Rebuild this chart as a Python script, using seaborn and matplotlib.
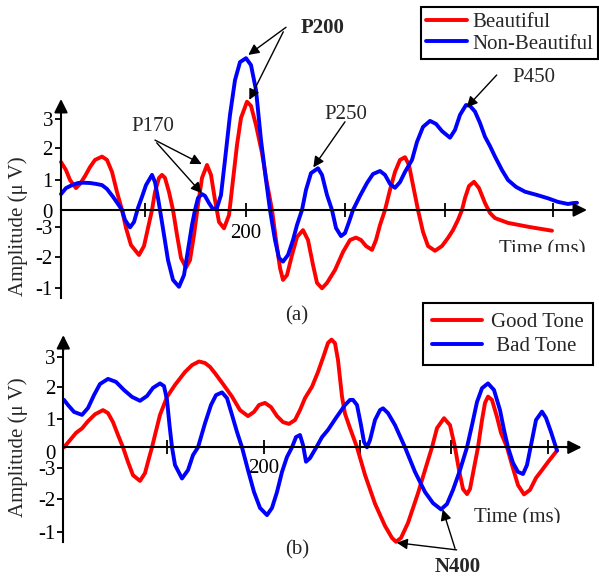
import matplotlib
matplotlib.use("Agg")
import matplotlib.pyplot as plt
import seaborn as sns
import pandas as pd
from matplotlib.transforms import Bbox

# ---------------- data (time in ms, amplitude in chart units) ----------------
beau_t = [15, 20, 24, 30, 34, 39, 44, 49, 56, 61, 66, 71, 76, 80, 85, 93, 98, 102, 106, 109,
          113, 116, 119, 123, 127, 131, 135, 140, 144, 148, 152, 156, 161, 165, 169, 173, 178,
          183, 187, 191, 195, 201, 205, 210, 216, 220, 226, 230, 234, 237, 241, 246, 251, 257,
          262, 267, 271, 276, 281, 289, 297, 304, 310, 315, 320, 326, 330, 334, 339, 344, 349,
          354, 359, 363, 367, 372, 377, 382, 389, 396, 402, 407, 412, 416, 419, 423, 428, 433,
          439, 444, 449, 462, 484, 506]
beau_a = [1.6, 1.33, 1.0, 0.73, 0.87, 1.13, 1.43, 1.67, 1.78, 1.67, 1.27, 0.6, 0.0, -0.6, -1.17,
          -1.5, -1.2, -0.6, 0.0, 0.6, 1.07, 1.17, 1.07, 0.6, 0.0, -0.83, -1.6, -1.92, -1.67,
          -0.83, 0.17, 1.07, 1.5, 1.17, 0.33, -0.4, -0.61, -0.17, 1.0, 2.17, 3.07, 3.61, 3.47,
          2.83, 1.9, 1.07, 0.0, -1.0, -1.93, -2.33, -2.17, -1.5, -0.9, -0.67, -1.0, -1.83,
          -2.43, -2.61, -2.43, -2.0, -1.4, -1.0, -0.92, -1.0, -1.2, -1.33, -1.0, -0.5, 0.0,
          0.67, 1.27, 1.67, 1.76, 1.5, 0.83, 0.0, -0.73, -1.2, -1.36, -1.2, -0.93, -0.67,
          -0.33, 0.0, 0.4, 0.8, 0.94, 0.73, 0.23, -0.1, -0.27, -0.43, -0.57, -0.69]

nonbeau_t = [15, 20, 26, 32, 37, 44, 50, 56, 61, 67, 72, 76, 79, 84, 88, 92, 96, 100, 106, 109,
             112, 114, 118, 122, 127, 133, 138, 142, 146, 149, 152, 156, 159, 163, 167, 171,
             175, 179, 184, 189, 194, 200, 205, 210, 215, 220, 224, 229, 233, 237, 242, 247,
             251, 256, 260, 265, 272, 276, 281, 286, 290, 295, 299, 303, 307, 314, 321, 327,
             334, 339, 344, 349, 354, 359, 366, 371, 377, 384, 390, 396, 404, 409, 414, 420,
             424, 429, 434, 439, 444, 449, 456, 462, 470, 479, 491, 502, 512, 522, 527, 531]
nonbeau_a = [0.53, 0.73, 0.83, 0.9, 0.91, 0.9, 0.87, 0.83, 0.7, 0.44, 0.2, 0.0, -0.33, -0.58,
             -0.4, 0.07, 0.44, 0.83, 1.17, 0.93, 0.4, 0.0, -0.83, -1.67, -2.33, -2.56, -2.17,
             -1.33, -0.5, 0.0, 0.4, 0.53, 0.47, 0.23, 0.03, 0.07, 0.5, 1.67, 3.17, 4.33, 4.93,
             5.06, 4.83, 4.0, 2.33, 1.0, 0.0, -1.0, -1.6, -1.72, -1.5, -1.0, -0.5, 0.0, 0.67,
             1.23, 1.39, 1.17, 0.5, 0.0, -0.6, -0.87, -0.77, -0.4, 0.0, 0.47, 0.9, 1.2, 1.3,
             1.17, 0.87, 0.74, 0.93, 1.27, 1.67, 2.27, 2.77, 2.97, 2.87, 2.63, 2.41, 2.67, 3.17,
             3.5, 3.47, 3.28, 2.9, 2.44, 2.13, 1.78, 1.33, 1.0, 0.77, 0.61, 0.5, 0.39, 0.27,
             0.2, 0.23, 0.24]

good_t = [0, 6, 12, 18, 24, 31, 39, 44, 49, 54, 59, 64, 69, 76, 81, 85, 88, 91, 96, 103, 111,
          121, 128, 135, 141, 146, 151, 159, 168, 176, 184, 190, 195, 201, 207, 213, 219, 225,
          231, 236, 241, 248, 254, 260, 264, 267.5, 271, 274, 278, 281, 286, 293, 301, 311,
          321, 328, 332, 337, 344, 354, 361, 368, 373, 380, 386, 391, 395, 399, 403, 406, 410,
          414, 418, 421, 424, 428, 433, 437, 443, 448, 454, 460, 466, 472, 478, 484, 493]
good_a = [0.0, 0.24, 0.48, 0.63, 0.87, 1.1, 1.24, 1.14, 0.84, 0.41, 0.0, -0.49, -0.93, -1.12,
          -0.86, -0.36, 0.0, 0.41, 1.08, 1.68, 2.08, 2.51, 2.74, 2.86, 2.81, 2.68, 2.47, 2.11,
          1.69, 1.24, 1.04, 1.18, 1.41, 1.48, 1.34, 1.04, 0.84, 0.78, 0.91, 1.24, 1.64, 2.02,
          2.51, 3.08, 3.48, 3.59, 3.47, 2.91, 1.69, 1.12, 0.64, 0.0, -0.92, -1.88, -2.62,
          -3.02, -3.15, -3.02, -2.52, -1.53, -0.76, 0.0, 0.64, 0.97, 0.74, 0.0, -0.76, -1.39,
          -1.56, -1.39, -0.69, 0.0, 0.91, 1.48, 1.69, 1.58, 1.01, 0.48, 0.0, -0.59, -1.26,
          -1.57, -1.42, -1.02, -0.76, -0.49, -0.11]

bad_t = [0, 4, 10, 18, 24, 30, 36, 44, 52, 60, 68, 76, 83, 89, 96, 100, 103, 105.5, 108, 111,
         118, 124, 129, 134, 141, 147, 152, 158, 163, 168, 173, 178, 184, 190, 196, 203, 208,
         213, 218, 223, 228, 232, 236, 239, 242, 246, 252, 258, 264, 272, 281, 286, 289, 293,
         297, 300, 303, 306, 311, 316, 319, 324, 331, 341, 351, 361, 369, 377, 383, 389, 396,
         403, 408, 413, 418, 424, 430, 436, 440, 444, 449, 454, 459, 463, 468, 472, 478, 482,
         487, 493]
bad_a = [1.58, 1.41, 1.18, 1.08, 1.31, 1.74, 2.11, 2.28, 2.18, 1.91, 1.68, 1.55, 1.71, 1.98,
         2.13, 2.04, 1.58, 0.74, 0.0, -0.59, -1.04, -0.76, -0.26, 0.0, 0.8, 1.41, 1.74, 1.83,
         1.64, 1.08, 0.51, 0.0, -0.76, -1.49, -2.02, -2.26, -2.02, -1.49, -0.82, -0.32, 0.0,
         0.34, 0.41, 0.08, -0.48, -0.36, -0.02, 0.34, 0.58, 0.98, 1.41, 1.58, 1.58, 1.41, 0.74,
         0.18, 0.0, 0.24, 0.91, 1.24, 1.3, 1.14, 0.74, 0.0, -0.82, -1.49, -1.86, -2.07, -1.89,
         -1.42, -0.76, 0.0, 0.74, 1.51, 1.97, 2.13, 1.91, 1.24, 0.58, 0.0, -0.52, -0.82, -0.89,
         -0.59, 0.24, 0.91, 1.19, 0.98, 0.51, -0.11]

top_labels = ["Beautiful", "Non-Beautiful"]
bottom_labels = ["Good Tone", " Bad Tone"]
ytick_labels = ["3", "2", "1", "0", "-3", "-2", "-1"]
top_yticks = [3.03, 2.06, 1.0, -0.05, -0.58, -1.56, -2.61]
bottom_yticks = [3.0, 2.02, 0.93, -0.15, -0.7, -1.72, -2.81]
top_xticks = [99, 200, 299, 399, 507]
bottom_xticks = [103, 200, 296, 387, 484]
xtick_labels = ["", "200", "", "", ""]

RED, BLUE = "#ff0000", "#0000ff"

# ---------------- figure ----------------
sns.set_style("white")
plt.rcParams["font.family"] = ["Liberation Serif", "DejaVu Serif"]
FS = 15
W, H = 599, 577
fig = plt.figure(figsize=(W / 100, H / 100), dpi=100)
ax1 = fig.add_axes([0, 1 - 325 / H, 1, 325 / H])
ax2 = fig.add_axes([0, 0, 1, 282 / H])

df_top = pd.concat([
    pd.DataFrame({"time": beau_t, "amp": beau_a, "cond": top_labels[0]}),
    pd.DataFrame({"time": nonbeau_t, "amp": nonbeau_a, "cond": top_labels[1]}),
])
df_bot = pd.concat([
    pd.DataFrame({"time": good_t, "amp": good_a, "cond": bottom_labels[0]}),
    pd.DataFrame({"time": bad_t, "amp": bad_a, "cond": bottom_labels[1]}),
])

line_kw = dict(estimator=None, sort=False, linewidth=2.8, legend=False,
               solid_joinstyle="round", solid_capstyle="round")
sns.lineplot(data=df_top, x="time", y="amp", hue="cond", hue_order=top_labels,
             palette=[RED, BLUE], ax=ax1, **line_kw)
top_lines = list(ax1.lines[:2])
sns.lineplot(data=df_bot, x="time", y="amp", hue="cond", hue_order=bottom_labels,
             palette=[RED, BLUE], ax=ax2, **line_kw)
bot_lines = list(ax2.lines[:2])

def style_axis(ax, xlim, ylim, x0, ybounds, xend, xticks, yticks, xpad):
    ax.patch.set_alpha(0)
    ax.set_xlim(*xlim)
    ax.set_ylim(*ylim)
    ax.set_xlabel("")
    ax.set_ylabel("")
    for s in ("top", "right"):
        ax.spines[s].set_visible(False)
    ax.spines["left"].set_position(("data", x0))
    ax.spines["bottom"].set_position(("data", 0))
    ax.spines["left"].set_bounds(ybounds[0], ybounds[1] - 0.2)
    ax.spines["bottom"].set_bounds(x0, xend - 6)
    for s in ("left", "bottom"):
        ax.spines[s].set_linewidth(1.5)
        ax.spines[s].set_color("black")
    ax.set_xticks(xticks, xtick_labels)
    ax.set_yticks(yticks, ytick_labels)
    ax.tick_params(axis="x", direction="inout", length=10.5, width=1.3, pad=xpad,
                   labelsize=FS, colors="black", bottom=True)
    ax.tick_params(axis="y", direction="out", length=4.3, width=1.3, pad=1.5,
                   labelsize=FS, colors="black", left=True)
    ax.yaxis.get_major_ticks()[3].tick1line.set_visible(False)
    ax.grid(False)
    ap = dict(arrowstyle="-|>", color="black", lw=1.5, mutation_scale=20,
              shrinkA=0, shrinkB=0)
    ax.annotate("", xy=(xend, 0), xytext=(xend - 15, 0), arrowprops=ap)
    ax.annotate("", xy=(x0, ybounds[1]), xytext=(x0, ybounds[1] - 0.5), arrowprops=ap)

style_axis(ax1, (-46, 553), ((210 - 325) / 30, 210 / 30), 15, (-2.93, 3.7), 541,
           top_xticks, top_yticks, 5)
style_axis(ax2, (-64, 535), ((447.3 - 577) / 30, (447.3 - 295) / 30), -0.7, (-3.15, 3.74),
           517.7, bottom_xticks, bottom_yticks, 3.5)

# ---------------- legends ----------------
def make_legend(ax, lines, labels, anchor, hl, htp, bp, ls):
    leg = ax.legend(handles=lines, labels=labels, loc="upper right",
                    bbox_to_anchor=anchor, bbox_transform=fig.transFigure,
                    borderaxespad=0, frameon=True, fancybox=False, shadow=False,
                    edgecolor="black", facecolor="white", framealpha=1, fontsize=FS,
                    handlelength=hl, handletextpad=htp, borderpad=bp, labelspacing=ls)
    leg.get_frame().set_linewidth(1.5)
    return leg

make_legend(ax1, top_lines, top_labels, (598 / W, 1 - 7.3 / H), 1.95, 0.24, 0.25, 0.1)
make_legend(ax2, bot_lines, bottom_labels, (592.7 / W, 1 - 303.3 / H), 2.37, 0.43, 0.45, 0.2)

# ---------------- texts / annotations ----------------
arr = dict(arrowstyle="-|>", color="black", lw=1.0, mutation_scale=16, shrinkA=0, shrinkB=0)

ax1.text(-28, -0.53, "Amplitude (μ V)", rotation=90, ha="center", va="center", fontsize=FS)
ax2.text(-46, 0.0, "Amplitude (μ V)", rotation=90, ha="center", va="center", fontsize=FS)

# axis titles that are cut just above their baseline, as in the reference
t1 = ax1.text(496, -1.48, "Time (ms)", ha="center", va="baseline", fontsize=FS)
t1.set_clip_on(True)
t1.set_clip_path(None)
t1.set_clip_box(Bbox.from_extents(0, H - 252.3, W, H))
t2 = ax2.text(453.5, -2.52, "Time (ms)", ha="center", va="baseline", fontsize=FS)
t2.set_clip_on(True)
t2.set_clip_path(None)
t2.set_clip_box(Bbox.from_extents(0, H - 522.5, W, H))

ax1.text(251, -3.53, "(a)", ha="center", va="center", fontsize=FS)
ax2.text(233, -3.41, "(b)", ha="center", va="center", fontsize=FS)

# P200
ax1.text(277, 6.08, "P200", ha="center", va="center", fontsize=FS, fontweight="bold")
ax1.annotate("", xy=(202.3, 5.17), xytext=(240, 6.09), arrowprops=arr)
ax1.annotate("", xy=(203.3, 3.67), xytext=(237.3, 5.94), arrowprops=arr)
# P170
ax1.text(107.3, 2.78, "P170", ha="center", va="center", fontsize=FS)
ax1.annotate("", xy=(155.7, 1.53), xytext=(109, 2.33), arrowprops=arr)
ax1.annotate("", xy=(155.7, 0.56), xytext=(110.7, 2.24), arrowprops=arr)
# P250
ax1.text(300, 3.19, "P250", ha="center", va="center", fontsize=FS)
ax1.annotate("", xy=(267.3, 1.42), xytext=(299, 2.94), arrowprops=arr)
# P450
ax1.text(488, 4.42, "P450", ha="center", va="center", fontsize=FS)
ax1.annotate("", xy=(420.7, 3.42), xytext=(450.7, 4.5), arrowprops=arr)
# N400
ax2.text(393.5, -3.98, "N400", ha="center", va="center", fontsize=FS, fontweight="bold")
ax2.annotate("", xy=(332.7, -3.18), xytext=(392.7, -3.42), arrowprops=arr)
ax2.annotate("", xy=(378.7, -2.07), xytext=(391, -3.37), arrowprops=arr)

fig.savefig("out.png", dpi=100, facecolor="white")
